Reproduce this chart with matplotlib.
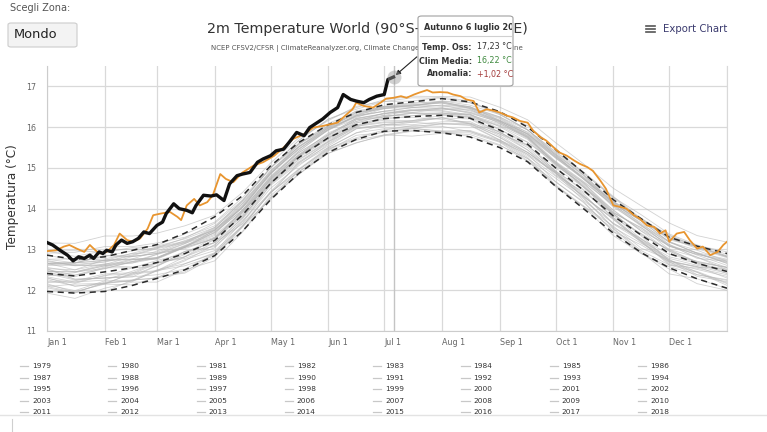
import numpy as np
import matplotlib.pyplot as plt
from matplotlib.patches import FancyBboxPatch
from matplotlib.transforms import Bbox, TransformedBbox

W, H = 767, 432

def px(x, y):
    # screenshot pixel -> figure fraction
    return x / W, 1 - y / H

# sample days (day of year) for climatology and the gray years
days = [0, 15, 31, 46, 59, 74, 90, 105, 120, 135, 151, 166, 181,
        196, 212, 227, 243, 258, 273, 288, 304, 319, 334, 349, 365]
clim_mean = [12.41, 12.35, 12.45, 12.55, 12.68, 12.90, 13.22, 13.85, 14.62, 15.25, 15.74, 16.06, 16.21,
             16.26, 16.29, 16.22, 15.93, 15.58, 15.00, 14.45, 13.82, 13.35, 12.90, 12.66, 12.46]
clim_upper = [12.86, 12.76, 12.82, 12.98, 13.12, 13.40, 13.80, 14.32, 15.05, 15.62, 16.06, 16.36, 16.55,
              16.62, 16.70, 16.62, 16.38, 16.00, 15.45, 14.88, 14.22, 13.75, 13.30, 13.08, 12.90]
clim_lower = [11.97, 11.93, 11.97, 12.12, 12.29, 12.50, 12.85, 13.45, 14.22, 14.86, 15.38, 15.70, 15.90,
              15.92, 15.86, 15.76, 15.50, 15.15, 14.55, 14.00, 13.40, 12.92, 12.55, 12.28, 12.05]

# gray years, same sample days
t1979 = [12.06, 11.93, 12.20, 12.22, 12.48, 12.60, 12.84, 13.57, 14.40, 14.95, 15.48, 15.74, 15.93, 16.04, 16.02, 15.89, 15.65, 15.23, 14.75, 14.25, 13.52, 12.97, 12.62, 12.44, 12.12]
t1980 = [12.31, 12.10, 12.15, 12.43, 12.48, 12.82, 13.17, 13.63, 14.37, 15.13, 15.54, 15.96, 16.03, 16.12, 16.07, 16.10, 15.75, 15.33, 14.88, 14.37, 13.62, 13.20, 12.62, 12.54, 12.38]
t1981 = [12.53, 12.27, 12.30, 12.33, 12.60, 12.95, 13.07, 13.65, 14.60, 15.15, 15.60, 16.02, 16.11, 16.12, 16.23, 16.10, 15.89, 15.44, 14.82, 14.41, 13.88, 13.33, 12.72, 12.56, 12.54]
t1982 = [12.16, 11.95, 11.97, 12.25, 12.30, 12.45, 12.90, 13.60, 14.22, 14.95, 15.46, 15.71, 15.89, 15.98, 15.89, 15.92, 15.68, 15.26, 14.58, 14.07, 13.57, 13.03, 12.75, 12.38, 12.26]
t1983 = [12.66, 12.67, 12.85, 12.83, 12.90, 13.02, 13.27, 13.95, 14.62, 15.30, 15.72, 16.10, 16.29, 16.28, 16.35, 16.32, 15.95, 15.56, 14.92, 14.33, 13.64, 13.27, 12.75, 12.44, 12.16]
t1984 = [11.96, 11.97, 12.15, 12.13, 12.33, 12.42, 12.82, 13.55, 14.26, 14.83, 15.42, 15.68, 15.81, 15.92, 15.87, 15.86, 15.63, 15.18, 14.54, 14.05, 13.50, 12.93, 12.40, 12.28, 12.04]
t1985 = [11.93, 11.80, 12.05, 12.20, 12.20, 12.50, 12.72, 13.43, 14.27, 14.85, 15.36, 15.62, 15.79, 15.90, 15.89, 15.77, 15.55, 15.23, 14.56, 14.05, 13.34, 12.90, 12.52, 12.16, 12.00]
t1986 = [12.09, 12.15, 12.17, 12.25, 12.50, 12.65, 12.92, 13.70, 14.40, 14.97, 15.50, 15.86, 15.96, 15.96, 16.09, 16.04, 15.68, 15.38, 14.88, 14.27, 13.54, 13.15, 12.78, 12.61, 12.46]
t1987 = [12.36, 12.43, 12.60, 12.57, 12.66, 12.82, 13.27, 13.80, 14.62, 15.29, 15.74, 16.03, 16.26, 16.34, 16.31, 16.32, 16.01, 15.63, 15.15, 14.55, 13.90, 13.53, 13.12, 12.78, 12.71]
t1988 = [12.76, 12.77, 12.73, 12.75, 12.80, 13.05, 13.27, 13.83, 14.72, 15.31, 15.76, 16.14, 16.26, 16.36, 16.31, 16.22, 15.87, 15.50, 14.88, 14.30, 13.74, 13.17, 12.68, 12.51, 12.34]
t1989 = [12.09, 11.95, 12.17, 12.40, 12.46, 12.72, 13.12, 13.70, 14.50, 15.05, 15.58, 15.96, 16.07, 16.06, 16.13, 16.14, 15.79, 15.38, 14.90, 14.29, 13.77, 13.21, 12.70, 12.58, 12.30]
t1990 = [12.36, 12.37, 12.57, 12.75, 12.76, 13.05, 13.27, 13.97, 14.70, 15.27, 15.80, 16.18, 16.25, 16.34, 16.35, 16.24, 16.03, 15.70, 15.05, 14.60, 13.90, 13.53, 13.00, 12.81, 12.50]
t1991 = [12.49, 12.33, 12.55, 12.55, 12.58, 12.95, 13.17, 13.77, 14.66, 15.25, 15.70, 16.00, 16.23, 16.24, 16.19, 16.08, 15.75, 15.38, 14.86, 14.20, 13.64, 13.25, 12.88, 12.71, 12.56]
t1992 = [12.46, 12.27, 12.30, 12.33, 12.38, 12.52, 12.90, 13.45, 14.32, 14.90, 15.36, 15.61, 15.81, 15.78, 15.85, 15.82, 15.57, 15.16, 14.66, 14.17, 13.44, 12.90, 12.58, 12.38, 12.24]
t1993 = [12.13, 11.99, 12.23, 12.25, 12.30, 12.65, 12.90, 13.57, 14.40, 14.90, 15.44, 15.80, 15.87, 15.96, 15.91, 15.90, 15.65, 15.34, 14.66, 14.15, 13.44, 13.11, 12.70, 12.34, 12.21]
t1994 = [12.19, 12.20, 12.25, 12.47, 12.68, 12.78, 13.04, 13.75, 14.57, 15.11, 15.64, 15.98, 16.06, 16.16, 16.23, 16.08, 15.83, 15.56, 14.92, 14.47, 13.78, 13.39, 12.96, 12.64, 12.48]
t1995 = [12.66, 12.50, 12.75, 12.75, 12.80, 13.08, 13.30, 13.90, 14.74, 15.33, 15.79, 16.18, 16.29, 16.41, 16.39, 16.27, 16.05, 15.76, 15.08, 14.57, 13.87, 13.35, 13.00, 12.68, 12.41]
t1996 = [12.26, 12.10, 12.17, 12.23, 12.48, 12.75, 12.97, 13.57, 14.42, 15.09, 15.50, 15.86, 16.07, 16.01, 16.09, 16.06, 15.69, 15.30, 14.80, 14.31, 13.74, 13.19, 12.65, 12.46, 12.18]
t1997 = [12.21, 12.23, 12.40, 12.43, 12.68, 12.95, 13.17, 13.90, 14.72, 15.31, 15.86, 16.14, 16.35, 16.36, 16.45, 16.36, 16.11, 15.80, 15.25, 14.73, 14.12, 13.70, 13.28, 13.06, 12.82]
t1998 = [12.96, 12.97, 12.93, 13.05, 13.08, 13.26, 13.54, 14.13, 14.87, 15.57, 16.02, 16.31, 16.51, 16.52, 16.63, 16.46, 16.13, 15.74, 15.12, 14.53, 13.87, 13.37, 12.98, 12.70, 12.56]
t1999 = [12.29, 12.17, 12.37, 12.40, 12.66, 12.82, 13.10, 13.79, 14.62, 15.19, 15.64, 16.04, 16.13, 16.14, 16.23, 16.20, 15.83, 15.44, 14.92, 14.45, 13.77, 13.21, 12.82, 12.66, 12.50]
t2000 = [12.41, 12.25, 12.30, 12.37, 12.60, 12.88, 13.24, 13.93, 14.64, 15.21, 15.66, 16.06, 16.17, 16.16, 16.29, 16.26, 15.87, 15.54, 15.00, 14.53, 13.84, 13.25, 12.72, 12.58, 12.42]
t2001 = [12.46, 12.45, 12.63, 12.67, 12.88, 13.05, 13.47, 14.03, 14.74, 15.41, 15.94, 16.20, 16.33, 16.44, 16.44, 16.42, 16.17, 15.76, 15.14, 14.65, 14.10, 13.59, 13.08, 12.92, 12.76]
t2002 = [12.66, 12.67, 12.85, 12.83, 12.90, 13.15, 13.40, 14.07, 14.88, 15.45, 15.96, 16.24, 16.46, 16.48, 16.47, 16.37, 16.15, 15.84, 15.28, 14.77, 14.07, 13.57, 13.18, 12.98, 12.71]
t2003 = [12.73, 12.60, 12.63, 12.83, 12.90, 13.08, 13.47, 14.03, 14.84, 15.53, 15.98, 16.26, 16.39, 16.48, 16.54, 16.50, 16.15, 15.83, 15.32, 14.73, 14.04, 13.60, 13.08, 12.88, 12.74]
t2004 = [12.61, 12.61, 12.60, 12.77, 12.78, 13.06, 13.42, 13.97, 14.78, 15.37, 15.82, 16.21, 16.33, 16.42, 16.41, 16.30, 16.08, 15.78, 15.16, 14.67, 14.08, 13.65, 13.12, 12.86, 12.61]
t2005 = [12.66, 12.67, 12.73, 12.91, 13.06, 13.20, 13.48, 14.09, 14.92, 15.51, 15.98, 16.28, 16.49, 16.51, 16.61, 16.50, 16.17, 15.88, 15.35, 14.83, 14.12, 13.70, 13.18, 12.91, 12.68]
t2006 = [12.46, 12.45, 12.60, 12.67, 12.78, 13.06, 13.42, 13.97, 14.80, 15.40, 15.94, 16.28, 16.39, 16.48, 16.54, 16.40, 16.15, 15.83, 15.28, 14.77, 14.17, 13.75, 13.35, 13.08, 12.84]
t2007 = [12.86, 12.73, 12.77, 12.90, 12.93, 13.18, 13.44, 14.03, 14.87, 15.47, 15.92, 16.28, 16.39, 16.40, 16.47, 16.44, 16.09, 15.72, 15.10, 14.63, 13.96, 13.45, 12.96, 12.68, 12.56]
t2008 = [12.33, 12.20, 12.35, 12.55, 12.73, 12.90, 13.30, 13.85, 14.67, 15.27, 15.74, 16.11, 16.19, 16.28, 16.34, 16.30, 15.93, 15.63, 15.10, 14.53, 13.97, 13.45, 13.10, 12.81, 12.56]
t2009 = [12.53, 12.50, 12.65, 12.70, 12.80, 13.10, 13.37, 14.05, 14.86, 15.45, 15.99, 16.34, 16.51, 16.60, 16.59, 16.48, 16.25, 15.86, 15.32, 14.81, 14.14, 13.75, 13.26, 13.08, 12.84]
t2010 = [12.91, 12.93, 13.07, 13.07, 13.16, 13.30, 13.58, 14.17, 14.90, 15.59, 16.00, 16.36, 16.45, 16.54, 16.59, 16.46, 16.21, 15.78, 15.24, 14.73, 14.12, 13.70, 13.18, 12.91, 12.66]
t2011 = [12.51, 12.37, 12.53, 12.70, 12.78, 13.08, 13.34, 13.93, 14.77, 15.37, 15.82, 16.22, 16.33, 16.41, 16.47, 16.34, 16.13, 15.74, 15.12, 14.63, 13.92, 13.49, 13.08, 12.88, 12.71]
t2012 = [12.56, 12.45, 12.53, 12.71, 12.88, 13.14, 13.50, 14.05, 14.86, 15.51, 15.94, 16.30, 16.47, 16.56, 16.51, 16.47, 16.23, 15.82, 15.26, 14.75, 14.16, 13.61, 13.20, 12.90, 12.66]
t2013 = [12.66, 12.67, 12.73, 12.77, 12.96, 13.22, 13.47, 14.13, 14.94, 15.51, 16.02, 16.36, 16.46, 16.54, 16.61, 16.50, 16.25, 15.93, 15.30, 14.73, 14.17, 13.73, 13.24, 13.06, 12.82]
t2014 = [12.71, 12.61, 12.69, 12.85, 13.02, 13.16, 13.52, 14.19, 15.00, 15.60, 16.04, 16.40, 16.51, 16.52, 16.64, 16.60, 16.33, 15.93, 15.38, 14.87, 14.27, 13.73, 13.30, 13.10, 12.94]
t2015 = [12.76, 12.67, 12.83, 12.97, 13.04, 13.28, 13.64, 14.21, 15.00, 15.67, 16.19, 16.48, 16.67, 16.76, 16.75, 16.74, 16.49, 16.18, 15.62, 15.10, 14.50, 14.07, 13.65, 13.34, 13.18]
t2016 = [13.16, 13.15, 13.33, 13.33, 13.40, 13.58, 13.84, 14.40, 15.12, 15.73, 16.16, 16.51, 16.63, 16.64, 16.74, 16.64, 16.31, 15.94, 15.34, 14.83, 14.18, 13.77, 13.28, 13.02, 12.80]
t2017 = [12.96, 12.83, 12.97, 13.01, 13.10, 13.38, 13.67, 14.27, 15.00, 15.67, 16.20, 16.44, 16.63, 16.72, 16.71, 16.60, 16.35, 16.04, 15.48, 14.87, 14.28, 13.85, 13.38, 13.11, 12.88]
t2018 = [12.63, 12.63, 12.70, 12.87, 13.04, 13.18, 13.54, 14.21, 15.00, 15.57, 16.09, 16.38, 16.49, 16.58, 16.64, 16.54, 16.31, 15.93, 15.40, 14.90, 14.30, 13.75, 13.34, 13.06, 12.82]

orange_days = [0, 5, 9, 12, 16, 20, 23, 26, 28, 32, 36, 39, 43, 46, 50, 54, 57, 61, 66, 70, 72,
               75, 79, 82, 86, 89, 93, 96, 100, 105, 111, 116, 122, 127, 132, 138, 143, 148, 152,
               156, 161, 164, 166, 170, 175, 179, 182, 186, 190, 193, 197, 200, 204, 207, 211, 215,
               218, 222, 225, 229, 232, 236, 240, 243, 247, 250, 254, 258, 261, 265, 268, 272, 275,
               279, 283, 286, 290, 293, 297, 300, 304, 308, 311, 315, 318, 322, 326, 329, 332, 334,
               338, 342, 345, 349, 352, 356, 360, 363, 365]
orange_values = [12.96, 12.98, 13.07, 13.11, 13.02, 12.94, 13.11, 12.98, 12.90, 12.94, 13.11, 13.39,
                 13.23, 13.19, 13.27, 13.51, 13.84, 13.88, 13.92, 13.80, 13.72, 14.08, 14.24, 14.08,
                 14.16, 14.33, 14.85, 14.73, 14.65, 14.89, 15.06, 15.14, 15.30, 15.50, 15.71, 15.83,
                 15.99, 16.03, 16.07, 16.11, 16.32, 16.44, 16.60, 16.52, 16.48, 16.60, 16.70, 16.72,
                 16.76, 16.72, 16.80, 16.85, 16.91, 16.85, 16.86, 16.85, 16.80, 16.76, 16.68, 16.64,
                 16.36, 16.44, 16.40, 16.36, 16.28, 16.24, 16.15, 16.11, 15.91, 15.75, 15.67, 15.50,
                 15.38, 15.30, 15.18, 15.10, 15.02, 14.93, 14.69, 14.49, 14.08, 14.04, 14.00, 13.84,
                 13.76, 13.59, 13.55, 13.39, 13.47, 13.19, 13.39, 13.43, 13.23, 13.02, 13.07, 12.86,
                 12.94, 13.11, 13.19]

# 2023 up to 6 July
black_days = [0, 3, 7, 11, 14, 17, 20, 23, 25, 28, 30, 32, 35, 37, 40, 43, 46, 49, 52, 55, 59, 62,
              64, 68, 71, 75, 78, 80, 84, 88, 91, 95, 98, 102, 105, 109, 113, 116, 120, 123, 127,
              130, 134, 138, 141, 145, 148, 152, 156, 159, 163, 166, 170, 173, 177, 181, 183, 186]
black_values = [13.17, 13.11, 12.98, 12.86, 12.72, 12.82, 12.78, 12.86, 12.78, 12.94, 12.90, 12.98,
                12.94, 13.11, 13.23, 13.15, 13.19, 13.27, 13.43, 13.39, 13.59, 13.67, 13.88, 14.12,
                14.00, 13.96, 13.90, 14.08, 14.33, 14.31, 14.34, 14.20, 14.61, 14.81, 14.85, 14.89,
                15.14, 15.22, 15.30, 15.42, 15.46, 15.63, 15.87, 15.79, 15.99, 16.11, 16.20, 16.36,
                16.48, 16.80, 16.68, 16.64, 16.60, 16.68, 16.76, 16.80, 17.17, 17.23]

month_days = [0, 31, 59, 90, 120, 151, 181, 212, 243, 273, 304, 334]
month_labels = ['Jan 1', 'Feb 1', 'Mar 1', 'Apr 1', 'May 1', 'Jun 1',
                'Jul 1', 'Aug 1', 'Sep 1', 'Oct 1', 'Nov 1', 'Dec 1']
temp_ticks = [11, 12, 13, 14, 15, 16, 17]
legend_years = list(range(1979, 2019))

gray_series = [t1979, t1980, t1981, t1982, t1983, t1984, t1985, t1986, t1987, t1988,
               t1989, t1990, t1991, t1992, t1993, t1994, t1995, t1996, t1997, t1998,
               t1999, t2000, t2001, t2002, t2003, t2004, t2005, t2006, t2007, t2008,
               t2009, t2010, t2011, t2012, t2013, t2014, t2015, t2016, t2017, t2018]

fig = plt.figure(figsize=(W / 100, H / 100), dpi=100)
ax = fig.add_axes([47 / W, 1 - 331 / H, 680 / W, 265 / H])

for vals in gray_series:
    ax.plot(days, vals, color='#b4b4b4', lw=0.6, alpha=0.6, zorder=2)

ax.plot(days, clim_lower, color='#2b2b2b', lw=1.1, dashes=(4, 3), zorder=3)
ax.plot(days, clim_mean, color='#2b2b2b', lw=1.1, dashes=(4, 3), zorder=3)
ax.plot(days, clim_upper, color='#2b2b2b', lw=1.1, dashes=(4, 3), zorder=3)
ax.plot(orange_days, orange_values, color='#e8952f', lw=1.3, zorder=4)
ax.plot(black_days, black_values, color='#111111', lw=2.4, zorder=5, solid_joinstyle='round')

# hovered point + crosshair
ax.axvline(186, color='#c4c4c4', lw=1, zorder=1)
ax.plot([186], [17.23], 'o', ms=10, color='#9a9a9a', alpha=0.45, mec='none', zorder=6)
ax.annotate('', xy=(186, 17.23), xytext=px(419, 55), textcoords='figure fraction',
            annotation_clip=False,
            arrowprops=dict(arrowstyle='-|>', color='#222222', lw=0.8, mutation_scale=7))

ax.set_xlim(0, 365)
ax.set_ylim(11, 17.5)
ax.set_xticks(month_days + [365])
ax.set_xticklabels(month_labels + [''], ha='left')
ax.set_yticks(temp_ticks)
ax.tick_params(length=0, labelsize=5.8, labelcolor='#666666')
ax.tick_params(axis='x', pad=5)
ax.tick_params(axis='y', pad=8)
ax.grid(True, color='#d9d9d9', lw=0.9)
ax.set_axisbelow(True)
ax.spines['top'].set_visible(False)
for side in ['left', 'bottom']:
    ax.spines[side].set_color('#cccccc')
ax.spines['right'].set_color('#d9d9d9')

fig.text(*px(13, 197), 'Temperatura (°C)', rotation=90, ha='center', va='center',
         fontsize=8.7, color='#333333')

# header
fig.text(*px(367, 29), '2m Temperature World (90°S-90°N, 0-360°E)', ha='center', va='center',
         fontsize=10.3, color='#333333')
fig.text(*px(367, 49), 'NCEP CFSV2/CFSR | ClimateReanalyzer.org, Climate Change Institute, University of Maine',
         ha='center', va='center', fontsize=5.0, color='#555555')
fig.text(*px(10, 8), 'Scegli Zona:', ha='left', va='center', fontsize=7, color='#555555')
box = FancyBboxPatch(px(8, 47), 69 / W, 24 / H, boxstyle='round,pad=0,rounding_size=0.004',
                     transform=fig.transFigure, facecolor='#f3f3f3', edgecolor='#cccccc', lw=0.8)
fig.patches.append(box)
fig.text(*px(14, 35), 'Mondo', ha='left', va='center', fontsize=9.4, color='#222222')

# export button
for yy in [26, 29, 32]:
    fig.add_artist(plt.Line2D([646 / W, 655 / W], [1 - yy / H] * 2, color='#555555', lw=1.2))
fig.text(*px(663, 29), 'Export Chart', ha='left', va='center', fontsize=7.3, color='#3a3a6e')

# tooltip
tip = FancyBboxPatch(px(418, 86), 95 / W, 70 / H, boxstyle='round,pad=0,rounding_size=0.005',
                     transform=fig.transFigure, facecolor='white', edgecolor='#a0a0a0', lw=0.8,
                     zorder=10)
fig.patches.append(tip)
t = fig.text(*px(424, 27), 'Autunno 6 luglio 2023', ha='left', va='center', fontsize=5.9,
             color='#333333', fontweight='semibold', zorder=11)
t.set_clip_box(TransformedBbox(Bbox([[418 / W, 1 - 86 / H], [512 / W, 1 - 16 / H]]),
                               fig.transFigure))
fig.add_artist(plt.Line2D([420 / W, 511 / W], [1 - 36 / H] * 2, color='#d0d0d0', lw=0.8, zorder=11))
rows = [('Temp. Oss:', '17,23 °C', '#333333', 47),
        ('Clim Media:', '16,22 °C', '#3f8a3f', 61),
        ('Anomalia:', '+1,02 °C', '#a33a3a', 74)]
for label, value, col, yy in rows:
    fig.text(*px(472, yy), label, ha='right', va='center', fontsize=5.8, color='#333333',
             fontweight='bold', zorder=11)
    fig.text(*px(477, yy), value, ha='left', va='center', fontsize=5.8, color=col, zorder=11)

# legend (cut by the bottom separator)
for i, yr in enumerate(legend_years):
    col, row = i % 8, i // 8
    x0 = 20 + col * 88.3
    y0 = 366 + row * 11.6
    fig.add_artist(plt.Line2D([x0 / W, (x0 + 8) / W], [1 - y0 / H] * 2, color='#c8c8c8', lw=0.9))
    fig.text(*px(x0 + 12, y0), str(yr), ha='left', va='center', fontsize=5.3, color='#333333')
fig.add_artist(plt.Line2D([0, 1], [1 - 415 / H] * 2, color='#e3e3e3', lw=1.0))
fig.add_artist(plt.Line2D([12 / W, 12 / W], [1 - 419 / H, 0], color='#cfcfcf', lw=0.8))

fig.savefig('out.png', dpi=100)
